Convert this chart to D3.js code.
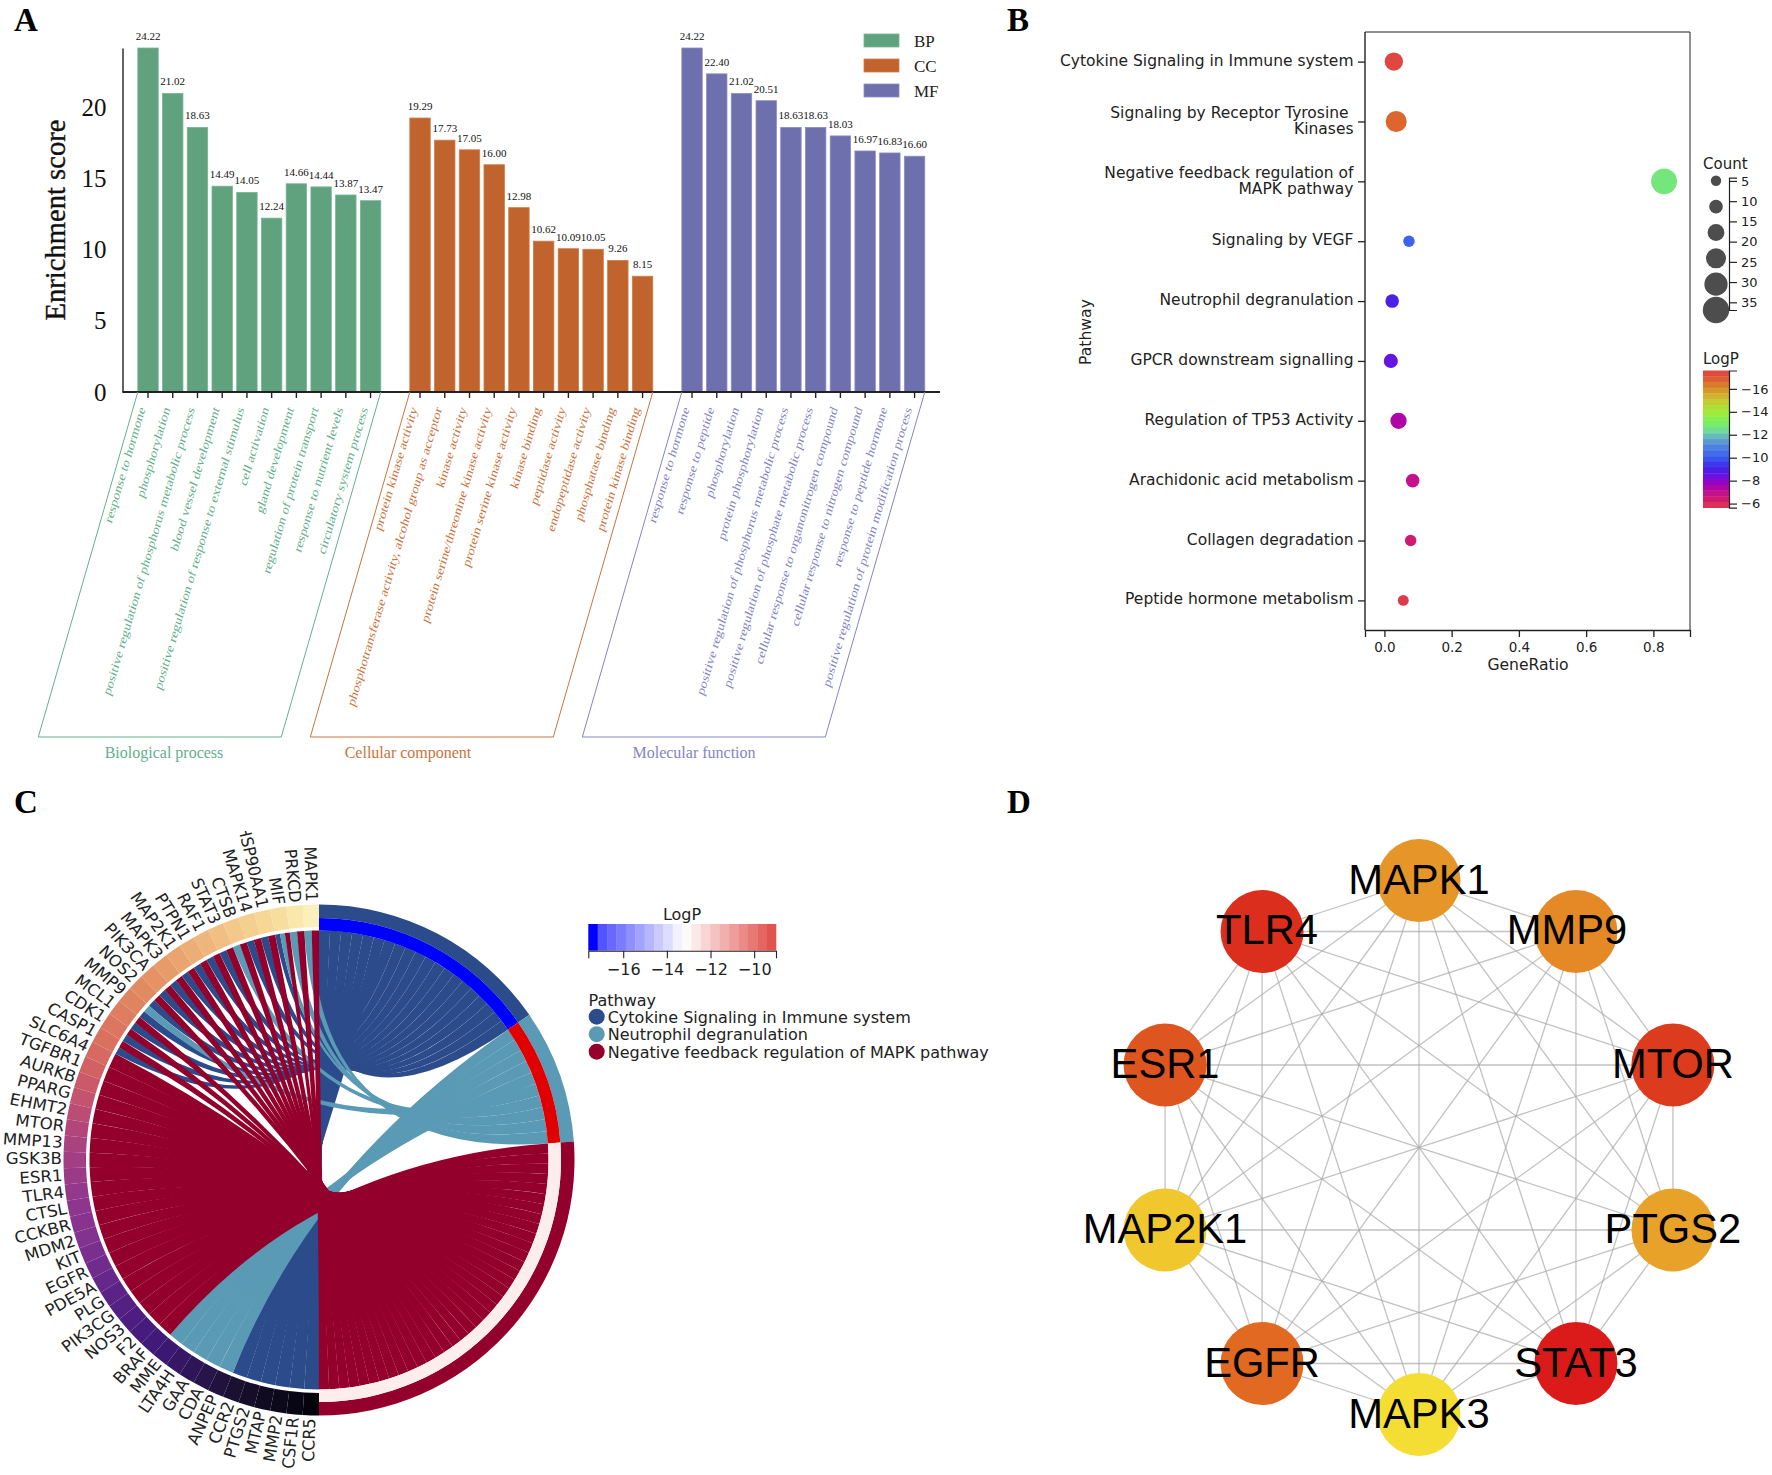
<!DOCTYPE html>
<html>
<head>
<meta charset="utf-8">
<script src="https://cdnjs.cloudflare.com/ajax/libs/d3/7.8.5/d3.min.js"></script>
<style>
html,body{margin:0;padding:0;background:#fff}
svg{display:block}
.serif{font-family:"Liberation Serif",serif}
.dv{font-family:"DejaVu Sans",sans-serif;fill:#222}
</style>
</head>
<body>
<svg id="c" width="1772" height="1475" viewBox="0 0 1772 1475"></svg>
<script>
// ---------- Panel A data ----------
const bpTerms = ["response to hormone","phosphorylation","positive regulation of phosphorus metabolic process","blood vessel development","positive regulation of response to external stimulus","cell activation","gland development","regulation of protein transport","response to nutrient levels","circulatory system process"];
const bpValues = [24.22,21.02,18.63,14.49,14.05,12.24,14.66,14.44,13.87,13.47];
const ccTerms = ["protein kinase activity","phosphotransferase activity, alcohol group as acceptor","kinase activity","protein serine/threonine kinase activity","protein serine kinase activity","kinase binding","peptidase activity","endopeptidase activity","phosphatase binding","protein kinase binding"];
const ccValues = [19.29,17.73,17.05,16.00,12.98,10.62,10.09,10.05,9.26,8.15];
const mfTerms = ["response to hormone","response to peptide","phosphorylation","protein phosphorylation","positive regulation of phosphorus metabolic process","positive regulation of phosphate metabolic process","cellular response to organonitrogen compound","cellular response to nitrogen compound","response to peptide hormone","positive regulation of protein modification process"];
const mfValues = [24.22,22.40,21.02,20.51,18.63,18.63,18.03,16.97,16.83,16.60];
const groupCodes = ["BP","CC","MF"];
const groupNames = ["Biological process","Cellular component","Molecular function"];
const yTicksA = [0,5,10,15,20];

// ---------- Panel B data ----------
const pathways = ["Cytokine Signaling in Immune system","Signaling by Receptor Tyrosine \nKinases","Negative feedback regulation of\nMAPK pathway","Signaling by VEGF","Neutrophil degranulation","GPCR downstream signalling","Regulation of TP53 Activity","Arachidonic acid metabolism","Collagen degradation","Peptide hormone metabolism"];
const geneRatio = [0.028,0.035,0.832,0.073,0.023,0.019,0.042,0.084,0.078,0.056];
const pathwayCount = [20,25,34,7,11,12,16,11,7,6];
const pathwayLogP = [-17.4,-16.7,-12.7,-10.2,-9,-8.5,-7.4,-6.9,-6.4,-5.7];
const countLegend = [5,11,17,23,29,35];
const countTicks = [5,10,15,20,25,30,35];
const logpStops = [-17.6,-16.8,-16,-15,-14,-13,-12.3,-11.5,-10.7,-9.8,-9,-8.3,-7.7,-7,-6.4,-5.6];
const logpColors = ["#e04048","#dd6030","#d9902a","#c8c830","#a0ec38","#78f060","#70d8a0","#60a0d0","#4878e8","#3850f0","#4a20e8","#7010e0","#a000b8","#c01090","#d01a70","#e04048"];
const logpTicksB = [-16,-14,-12,-10,-8,-6];
const ratioTicks = [0,0.2,0.4,0.6,0.8];

// ---------- Panel C data ----------
const genes = ["MAPK1","PRKCD","MIF","HSP90AA1","MAPK14","CTSB","STAT3","RAF1","PTPN1","MAP2K1","MAPK3","PIK3CA","NOS2","MMP9","MCL1","CDK1","CASP1","SLC6A4","TGFBR1","AURKB","PPARG","EHMT2","MTOR","MMP13","GSK3B","ESR1","TLR4","CTSL","CCKBR","MDM2","KIT","EGFR","PDE5A","PLG","PIK3CG","NOS3","F2","BRAF","MME","LTA4H","GAA","CDA","ANPEP","CCR2","PTGS2","MTAP","MMP2","CSF1R","CCR5"];
// which pathway each gene links to: B cytokine, T neutrophil, C negative feedback
const geneLinks = ["TC","TC","BTC","BC","BC","TC","BC","BC","BC","BC","BC","BC","BC","BT","BC","BC","BC","C","C","C","C","C","C","C","C","C","C","C","C","C","C","C","C","C","C","C","C","C","T","T","T","T","T","B","B","B","B","B","B"];
const geneRamp = ["#fbf0bb","#f6d995","#f3c98b","#edb078","#e89a68","#e0865f","#dc7560","#d56560","#c2506f","#ab427f","#98398a","#8a3590","#7a2f8f","#5a2388","#4a1c80","#3d1878","#2a1550","#1a1030","#0d0a1e","#05040d"];
const chordNames = ["Cytokine Signaling in Immune system","Neutrophil degranulation","Negative feedback regulation of MAPK pathway"];
const chordKeys = ["B","T","C"];
const chordCounts = [20,11,34];
const chordLogP = [-17.6,-8.85,-12.9];
const chordTicks = [-16,-14,-12,-10];

// ---------- Panel D data ----------
const hubGenes = ["MAPK1","MMP9","MTOR","PTGS2","STAT3","MAPK3","EGFR","MAP2K1","ESR1","TLR4"];
const hubScores = [0.62,0.56,0.17,0.68,0.0,1.0,0.40,0.88,0.30,0.10];

// ---------- palette ----------
const fillA = {BP:"#5fa27d",CC:"#c0632c",MF:"#6e70ae"};
const edgeA = {BP:"#76b691",CC:"#cf7c4a",MF:"#8b8dc4"};
const textA = {BP:"#62b08c",CC:"#c9743c",MF:"#8484c4"};
const chordFill = {B:"#2b4b8b",T:"#5a9ab5",C:"#94002c"};

const svg = d3.select("#c");

function panelLabel(t,x,y){
  svg.append("text").attr("class","serif").attr("x",x).attr("y",y)
     .attr("font-size",33).attr("font-weight","bold").attr("fill","#000").text(t);
}
panelLabel("A",14,31); panelLabel("B",1007,31); panelLabel("C",14,813); panelLabel("D",1007,813);

// ================= A =================
(function(){
  const g = svg.append("g").attr("class","serif");
  const rows = [];
  const keys = [];
  [[bpTerms,bpValues],[ccTerms,ccValues],[mfTerms,mfValues]].forEach((p,gi)=>{
    if(gi) keys.push("gap"+gi);
    p[0].forEach((t,i)=>{
      const k=groupCodes[gi]+i; keys.push(k);
      rows.push({k,term:t,value:p[1][i],group:groupCodes[gi],gi});
    });
  });
  const x = d3.scaleBand().domain(keys).range([133.5,929.1]).padding(0.174);
  const y = d3.scaleLinear().domain([0,24.22]).range([392,48]);

  g.selectAll("rect.bar").data(rows).join("rect").attr("class","bar")
    .attr("x",d=>x(d.k)).attr("width",x.bandwidth())
    .attr("y",d=>y(d.value)).attr("height",d=>y(0)-y(d.value))
    .attr("fill",d=>fillA[d.group]).attr("stroke",d=>edgeA[d.group]).attr("stroke-width",0.8);

  g.selectAll("text.val").data(rows).join("text").attr("class","val")
    .attr("x",d=>x(d.k)+x.bandwidth()/2).attr("y",d=>y(d.value)-8)
    .attr("text-anchor","middle").attr("font-size",11).attr("fill","#111")
    .text(d=>d.value.toFixed(2));

  const ax = g.append("g").attr("transform","translate(0,392)")
    .call(d3.axisBottom(x).tickValues(rows.map(d=>d.k)).tickSize(6).tickFormat(""));
  ax.select(".domain").remove();
  ax.selectAll("line").attr("stroke","#222").attr("stroke-width",1.4);
  g.append("line").attr("x1",122.5).attr("x2",940).attr("y1",392).attr("y2",392).attr("stroke","#222").attr("stroke-width",1.8);

  const ay = g.append("g").attr("transform","translate(122.5,0)")
    .call(d3.axisLeft(y).tickValues(yTicksA).tickSize(0).tickPadding(16));
  ay.select(".domain").attr("stroke","#222").attr("stroke-width",1.4);
  ay.selectAll("text").attr("font-size",25).attr("fill","#111").attr("font-family","Liberation Serif");

  g.append("text").attr("transform","translate(65,220) rotate(-90)").attr("text-anchor","middle")
    .attr("font-size",28.6).attr("fill","#111").attr("stroke","#111").attr("stroke-width",0.35).text("Enrichment score");

  // slanted term labels
  g.selectAll("text.term").data(rows).join("text").attr("class","term")
    .attr("transform",d=>`translate(${x(d.k)+x.bandwidth()/2-5},408) scale(1,1.3) rotate(-69)`)
    .attr("text-anchor","end").attr("dominant-baseline","middle")
    .attr("font-size",11.35).attr("fill",d=>textA[d.group]).text(d=>d.term);

  // parallelogram outline
  groupCodes.forEach((c,gi)=>{
    const first=x(c+"0"), last=x(c+"9")+x.bandwidth();
    const dx=99.5;
    g.append("path").attr("d",d3.line()([[first,392],[first-dx,737],[last-dx,737],[last,392]]))
      .attr("fill","none").attr("stroke",textA[c]).attr("stroke-width",1);
  });
  const centersX = [164,408,694];
  groupNames.forEach((n,i)=>{
    g.append("text").attr("x",centersX[i]).attr("y",758).attr("text-anchor","middle")
     .attr("font-size",16).attr("fill",textA[groupCodes[i]]).text(n);
  });
  // legend
  const ly = d3.scalePoint().domain(groupCodes).range([40.5,90.5]);
  groupCodes.forEach(c=>{
    g.append("rect").attr("x",864).attr("y",ly(c)-6.5).attr("width",35).attr("height",13)
      .attr("fill",fillA[c]).attr("stroke",edgeA[c]).attr("stroke-width",0.8);
    g.append("text").attr("x",914).attr("y",ly(c)+6).attr("font-size",17).attr("fill","#222").text(c);
  });
})();

// ================= B =================
(function(){
  const g = svg.append("g").attr("class","dv");
  const x = d3.scaleLinear().domain([-0.0578,0.909]).range([1365,1690]);
  const y = d3.scalePoint().domain(pathways).range([61.6,600.4]);
  const r = d3.scaleLinear().domain([5,35]).range([5.2,13.2]);
  const col = d3.scaleLinear().domain(logpStops).range(logpColors);
  const rows = pathways.map((p,i)=>({p,ratio:geneRatio[i],c:pathwayCount[i],l:pathwayLogP[i]}));

  g.append("path").attr("d","M1365,32H1690V630").attr("fill","none").attr("stroke","#222").attr("stroke-width",1);
  g.append("line").attr("x1",1365).attr("x2",1365).attr("y1",32).attr("y2",630).attr("stroke","#222").attr("stroke-width",1.4);

  const ax = g.append("g").attr("transform","translate(0,630)")
    .call(d3.axisBottom(x).tickValues(ratioTicks).tickFormat(d3.format(".1f")).tickSize(7).tickSizeOuter(7).tickPadding(5));
  ax.selectAll("path,line").attr("stroke","#222").attr("stroke-width",1.3);
  ax.selectAll("text").attr("font-size",13.5).attr("fill","#222").attr("font-family","DejaVu Sans");

  const ay = g.append("g").attr("transform","translate(1365,0)")
    .call(d3.axisLeft(y).tickSize(7).tickSizeOuter(0).tickPadding(4).tickFormat(""));
  ay.select(".domain").remove();
  ay.selectAll("line").attr("stroke","#222").attr("stroke-width",1.3);
  rows.forEach(d=>{
    const lines=d.p.split("\n");
    lines.forEach((ln,i)=>{
      g.append("text").attr("x",1353.5).attr("y",y(d.p)+4-(lines.length-1)*7+i*15.8)
       .attr("text-anchor","end").attr("font-size",15.5).style("white-space","pre").text(ln);
    });
  });

  g.selectAll("circle.pt").data(rows).join("circle").attr("class","pt")
    .attr("cx",d=>x(d.ratio)).attr("cy",d=>y(d.p)).attr("r",d=>r(d.c)).attr("fill",d=>col(d.l));

  g.append("text").attr("x",1528).attr("y",670).attr("text-anchor","middle").attr("font-size",15.6).text("GeneRatio");
  g.append("text").attr("transform","translate(1091,332) rotate(-90)").attr("text-anchor","middle").attr("font-size",15.6).text("Pathway");

  // count legend
  g.append("text").attr("x",1703).attr("y",169).attr("font-size",15).text("Count");
  const cy = d3.scaleLinear().domain([4.2,36.9]).range([177.7,310]);
  const cyPos = d3.scalePoint().domain(countLegend).range([180.8,310]);
  g.selectAll("circle.lg").data(countLegend).join("circle").attr("class","lg")
    .attr("cx",1716).attr("cy",d=>cyPos(d)).attr("r",d=>r(d)).attr("fill","#4d4d4d");
  const ca = g.append("g").attr("transform","translate(1729,0)")
    .call(d3.axisRight(cy).tickValues(countTicks).tickSize(8).tickSizeOuter(8).tickPadding(4));
  ca.selectAll("path,line").attr("stroke","#222").attr("stroke-width",1.2);
  ca.selectAll("text").attr("font-size",13).attr("fill","#222").attr("font-family","DejaVu Sans");

  // LogP colourbar
  g.append("text").attr("x",1703).attr("y",364).attr("font-size",15).text("LogP");
  const cb = d3.scaleLinear().domain([-17.6,-5.65]).range([370.5,507.6]);
  const nb = 24, step=(cb.domain()[1]-cb.domain()[0])/nb;
  g.selectAll("rect.band").data(d3.range(nb)).join("rect").attr("class","band")
    .attr("x",1703).attr("width",26)
    .attr("y",i=>cb(cb.domain()[0]+i*step)).attr("height",(cb.range()[1]-cb.range()[0])/nb+0.4)
    .attr("fill",i=>col(cb.domain()[0]+(i+0.5)*step));
  const cba = g.append("g").attr("transform","translate(1729,0)")
    .call(d3.axisRight(cb).tickValues(logpTicksB).tickSize(8).tickSizeOuter(8).tickPadding(4));
  cba.selectAll("path,line").attr("stroke","#222").attr("stroke-width",1.2);
  cba.selectAll("text").attr("font-size",13).attr("fill","#222").attr("font-family","DejaVu Sans");
})();

// ================= C =================
(function(){
  const cx=319, cy=1160, R=255.5, Rm=242, Ri=229.5, Rg=233, Rc=229.5;
  svg.append("defs").append("clipPath").attr("id","clipC").append("rect")
    .attr("x",0).attr("y",831).attr("width",620).attr("height",644);
  const root = svg.append("g");
  const g = root.append("g").attr("transform",`translate(${cx},${cy})`);
  const deg = Math.PI/180;

  // pathway sectors on the right half
  const angle = d3.scaleLinear().domain([0,d3.sum(chordCounts)]).range([0,Math.PI]);
  let acc=0;
  const sectors = chordKeys.map((k,i)=>{
    const s={k,i,a0:angle(acc),a1:angle(acc+chordCounts[i])}; acc+=chordCounts[i]; return s;
  });
  // gene sectors on the left half: first gene ends at the top, last gene starts at bottom
  const geneAngle = d3.scaleBand().domain(d3.reverse(genes.slice())).range([Math.PI,2*Math.PI]);
  const rampPos = d3.scaleLinear().domain([0,genes.length-1]).range([0,1]);
  const ramp = d3.interpolateRgbBasis(geneRamp);

  // build ribbons
  const byPath={B:[],T:[],C:[]};
  const ordered = d3.reverse(genes.slice());
  ordered.forEach(ge=>{
    const code=geneLinks[genes.indexOf(ge)];
    const a0=geneAngle(ge), w=geneAngle.bandwidth()/code.length;
    code.split("").forEach((k,j)=>{
      byPath[k].push({k,ga0:a0+j*w,ga1:a0+(j+1)*w,gene:ge});
    });
  });
  sectors.forEach(s=>{
    const list=byPath[s.k], w=(s.a1-s.a0)/list.length;
    list.forEach((l,i)=>{ l.pa0=s.a0+i*w; l.pa1=s.a0+(i+1)*w; });
  });
  const ribbon=d3.ribbon().radius(Rc);
  chordKeys.forEach(k=>{
    g.append("g").selectAll("path").data(byPath[k]).join("path")
      .attr("d",d=>ribbon({source:{startAngle:d.pa0,endAngle:d.pa1},target:{startAngle:d.ga0,endAngle:d.ga1}}))
      .attr("fill",chordFill[k]);
  });

  // outer rings
  const arc=d3.arc();
  const bwr=d3.scaleLinear().domain([-17.6,-13.2,-8.85]).range(["#0000ff","#ffffff","#e00000"]);
  sectors.forEach(s=>{
    g.append("path").attr("d",arc({innerRadius:Rm,outerRadius:R,startAngle:s.a0,endAngle:s.a1})).attr("fill",chordFill[s.k]);
    g.append("path").attr("d",arc({innerRadius:Ri,outerRadius:Rm,startAngle:s.a0,endAngle:s.a1})).attr("fill",bwr(chordLogP[s.i]));
  });
  genes.forEach((ge,i)=>{
    const a=geneAngle(ge);
    g.append("path").attr("d",arc({innerRadius:Rg,outerRadius:R,startAngle:a,endAngle:a+geneAngle.bandwidth()}))
      .attr("fill",ramp(rampPos(i)));
  });
  const labels = root.append("g").attr("clip-path","url(#clipC)")
    .append("g").attr("transform",`translate(${cx},${cy})`);
  genes.forEach(ge=>{
    const a=geneAngle(ge)+geneAngle.bandwidth()/2;
    const d=a/deg;
    const px=(R+1.5)*Math.sin(a), py=-(R+3)*Math.cos(a);
    labels.append("text").attr("class","dv").attr("transform",`translate(${px},${py}) scale(1.04,1) rotate(${d-270})`)
      .attr("text-anchor","end").attr("dominant-baseline","middle").attr("font-size",16).text(ge);
  });

  // colourbar
  const lg = svg.append("g").attr("class","dv");
  const xb = d3.scaleLinear().domain([-17.6,-9]).range([588.3,776]);
  const barCol = d3.scaleLinear().domain([-17.4,-13.2,-9]).range(["#4040ff","#ffffff","#df4a44"]);
  const nb=20, st=8.6/nb;
  lg.selectAll("rect").data(d3.range(nb)).join("rect")
    .attr("x",i=>xb(-17.6+i*st)).attr("y",924).attr("height",26.7).attr("width",(776-588.3)/nb+0.3)
    .attr("fill",i=>i===0?"#0000ff":barCol(-17.6+(i+0.5)*st));
  const xa=lg.append("g").attr("transform","translate(0,950.7)")
    .call(d3.axisBottom(xb).tickValues(chordTicks).tickSize(7.5).tickSizeOuter(7.5).tickPadding(5));
  xa.selectAll("path,line").attr("stroke","#222").attr("stroke-width",1.1);
  xa.selectAll("text").attr("font-size",16).attr("fill","#222").attr("font-family","DejaVu Sans");
  lg.append("text").attr("x",682).attr("y",920).attr("text-anchor","middle").attr("font-size",16).text("LogP");
  lg.append("text").attr("x",588.5).attr("y",1006).attr("font-size",16).text("Pathway");
  const ly=d3.scalePoint().domain(chordNames).range([1016.7,1051.7]);
  chordNames.forEach((n,i)=>{
    lg.append("circle").attr("cx",596.7).attr("cy",ly(n)).attr("r",8).attr("fill",chordFill[chordKeys[i]]);
    lg.append("text").attr("x",607.7).attr("y",ly(n)+6).attr("font-size",16).text(n);
  });
})();

// ================= D =================
(function(){
  const g=svg.append("g");
  const cx=1419, cy=1147.5, R=267;
  const ang=d3.scaleBand().domain(hubGenes).range([0,2*Math.PI]).paddingInner(0).paddingOuter(0);
  const col=d3.scaleLinear().domain([0,0.3,0.62,0.88,1]).range(["#db1a1a","#df551f","#e69528","#f0c82d","#f4de33"]);
  const nudge={MMP9:-9,TLR4:5};
  const nodes=hubGenes.map((n,i)=>({n,s:hubScores[i],x:cx+R*Math.sin(ang(n)),y:cy-R*Math.cos(ang(n))}));
  const edges=d3.merge(nodes.map((a,i)=>nodes.slice(i+1).map(b=>[a,b])));
  g.selectAll("line").data(edges).join("line")
    .attr("x1",d=>d[0].x).attr("y1",d=>d[0].y).attr("x2",d=>d[1].x).attr("y2",d=>d[1].y)
    .attr("stroke","#a8a8a8").attr("stroke-opacity",0.7).attr("stroke-width",1.3);
  g.selectAll("circle").data(nodes).join("circle")
    .attr("cx",d=>d.x).attr("cy",d=>d.y).attr("r",41.5).attr("fill",d=>col(d.s));
  g.selectAll("text").data(nodes).join("text")
    .attr("x",d=>d.x+(nudge[d.n]||0)).attr("y",d=>d.y+13).attr("text-anchor","middle")
    .attr("font-family","Liberation Sans").attr("font-size",41.7).attr("fill","#000").text(d=>d.n);
})();
</script>
</body>
</html>
